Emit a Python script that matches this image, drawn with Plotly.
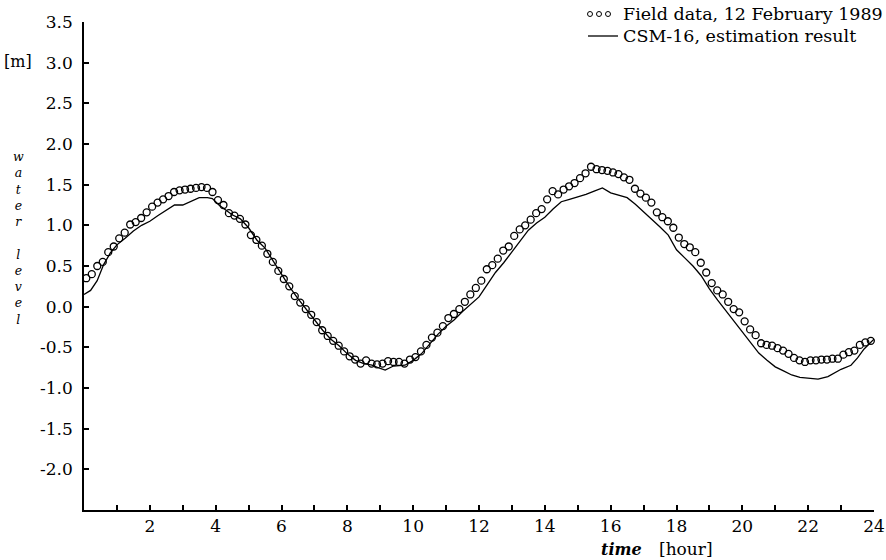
import plotly.graph_objects as go

# ---------------- data ----------------
# Field data, 12 February 1989 (water level [m]) sampled every 10 minutes
field_start = 0.07          # hour of first observation
field_step_min = 10         # minutes between observations
field_level = [
    0.35, 0.40, 0.50, 0.55, 0.67, 0.74, 0.84, 0.91, 1.01, 1.04,
    1.09, 1.16, 1.23, 1.28, 1.32, 1.36, 1.41, 1.43, 1.44, 1.45,
    1.46, 1.47, 1.46, 1.41, 1.31, 1.25, 1.15, 1.12, 1.08, 1.01,
    0.88, 0.82, 0.75, 0.65, 0.55, 0.44, 0.34, 0.25, 0.13, 0.05,
    -0.03, -0.10, -0.19, -0.29, -0.36, -0.42, -0.48, -0.55, -0.61, -0.65,
    -0.70, -0.66, -0.70, -0.71, -0.70, -0.67, -0.68, -0.68, -0.70, -0.65,
    -0.62, -0.55, -0.47, -0.38, -0.32, -0.24, -0.14, -0.09, -0.03, 0.06,
    0.15, 0.23, 0.32, 0.46, 0.51, 0.59, 0.69, 0.74, 0.87, 0.95,
    1.00, 1.07, 1.15, 1.20, 1.32, 1.42, 1.38, 1.44, 1.48, 1.52,
    1.58, 1.64, 1.72, 1.69, 1.68, 1.67, 1.65, 1.63, 1.59, 1.56,
    1.45, 1.39, 1.34, 1.28, 1.16, 1.10, 1.05, 0.97, 0.85, 0.77,
    0.73, 0.67, 0.54, 0.42, 0.29, 0.20, 0.15, 0.06, -0.03, -0.07,
    -0.18, -0.28, -0.35, -0.45, -0.47, -0.48, -0.51, -0.54, -0.58, -0.63,
    -0.66, -0.68, -0.66, -0.66, -0.65, -0.65, -0.64, -0.64, -0.59, -0.56,
    -0.54, -0.47, -0.44, -0.42, -0.38,
]
field_time = [field_start + k * field_step_min / 60 for k in range(len(field_level))]

# CSM-16 estimation result
csm_time = [
    0.0, 0.2, 0.4, 0.6, 0.8, 1.0, 1.25, 1.5, 1.75, 2.0,
    2.25, 2.5, 2.75, 3.0, 3.25, 3.5, 3.75, 3.9, 4.1, 4.3,
    4.5, 4.75, 5.0, 5.25, 5.5, 5.75, 6.0, 6.25, 6.5, 6.75,
    7.0, 7.25, 7.5, 7.75, 8.0, 8.25, 8.5, 8.75, 9.0, 9.15,
    9.4, 9.75, 10.0, 10.25, 10.5, 10.75, 11.0, 11.25, 11.5, 11.75,
    12.0, 12.25, 12.5, 12.75, 13.0, 13.25, 13.5, 13.75, 14.0, 14.25,
    14.5, 14.75, 15.0, 15.25, 15.5, 15.75, 16.0, 16.25, 16.5, 16.75,
    17.0, 17.25, 17.5, 17.75, 18.0, 18.25, 18.5, 18.75, 19.0, 19.25,
    19.5, 19.75, 20.0, 20.25, 20.5, 20.75, 21.0, 21.25, 21.5, 21.75,
    22.0, 22.3, 22.6, 22.8, 23.0, 23.3, 23.5, 23.7, 23.9, 24.1,
]
csm_level = [
    0.15, 0.20, 0.32, 0.52, 0.66, 0.76, 0.84, 0.93, 1.00, 1.05,
    1.12, 1.18, 1.25, 1.25, 1.30, 1.34, 1.34, 1.33, 1.25, 1.19,
    1.13, 1.08, 0.97, 0.82, 0.72, 0.56, 0.40, 0.24, 0.10, -0.03,
    -0.16, -0.29, -0.40, -0.48, -0.58, -0.66, -0.70, -0.72, -0.76, -0.78,
    -0.73, -0.72, -0.66, -0.58, -0.46, -0.34, -0.24, -0.16, -0.06, 0.03,
    0.12, 0.27, 0.42, 0.54, 0.67, 0.80, 0.94, 1.03, 1.10, 1.20,
    1.29, 1.32, 1.35, 1.38, 1.42, 1.46, 1.40, 1.37, 1.34, 1.26,
    1.17, 1.08, 0.98, 0.88, 0.70, 0.60, 0.50, 0.38, 0.22, 0.08,
    -0.05, -0.18, -0.31, -0.45, -0.57, -0.66, -0.74, -0.79, -0.84, -0.87,
    -0.88, -0.89, -0.86, -0.81, -0.77, -0.72, -0.63, -0.52, -0.44, -0.36,
]

x_label_ticks = [2, 4, 6, 8, 10, 12, 14, 16, 18, 20, 22, 24]
y_label_ticks = [-2.0, -1.5, -1.0, -0.5, 0.0, 0.5, 1.0, 1.5, 2.0, 2.5, 3.0, 3.5]

legend_field = "Field data, 12 February 1989"
legend_csm = "CSM-16, estimation result"
y_title_words = ["water", "level"]
y_unit = "[m]"
x_title = "time"
x_unit = "[hour]"

# ---------------- figure ----------------
W, H = 886, 560
L, R, T, B = 84, 12, 22, 50
PW, PH = W - L - R, H - T - B


def px(x):
    return (x - L) / PW


def py(y):
    return (H - B - y) / PH


FONT = "DejaVu Serif"

fig = go.Figure()
fig.add_trace(go.Scatter(
    x=csm_time, y=csm_level, mode="lines",
    line=dict(color="black", width=1.3), name=legend_csm,
))
fig.add_trace(go.Scatter(
    x=field_time, y=field_level, mode="markers",
    marker=dict(symbol="circle-open", size=7, color="black",
                line=dict(color="black", width=1.3)),
    name=legend_field, cliponaxis=False,
))

fig.update_layout(
    width=W, height=H,
    margin=dict(l=L, r=R, t=T, b=B, pad=0, autoexpand=False),
    paper_bgcolor="white", plot_bgcolor="white",
    showlegend=False,
    font=dict(family=FONT, color="black", size=17),
)
fig.update_xaxes(
    range=[0, 24], showgrid=False, zeroline=False, automargin=False,
    showline=True, linecolor="black", linewidth=1.5,
    ticks="inside", ticklen=5, tickwidth=1.5, tickcolor="black",
    tickvals=x_label_ticks, ticktext=[str(v) for v in x_label_ticks],
    minor=dict(tick0=0, dtick=1, ticks="inside", ticklen=5,
               tickwidth=1.5, tickcolor="black", showgrid=False),
    tickfont=dict(family=FONT, size=17),
)
fig.update_yaxes(
    range=[-2.5, 3.5], showgrid=False, zeroline=False, automargin=False,
    showline=True, linecolor="black", linewidth=1.5,
    ticks="inside", ticklen=5, tickwidth=1.5, tickcolor="black",
    tickvals=y_label_ticks, ticktext=["%.1f" % v for v in y_label_ticks],
    tickfont=dict(family=FONT, size=17),
    ticklabelstandoff=6,
)

ann = []
LEG_FS = 17.5
# legend rows
ann.append(dict(x=px(621), y=py(14), xref="paper", yref="paper",
                text=legend_field, showarrow=False, xanchor="left",
                yanchor="middle", font=dict(family=FONT, size=LEG_FS)))
ann.append(dict(x=px(621), y=py(36), xref="paper", yref="paper",
                text=legend_csm, showarrow=False, xanchor="left",
                yanchor="middle", font=dict(family=FONT, size=LEG_FS)))
# y axis title: unit and vertically stacked italic letters
ann.append(dict(x=px(18), y=py(62), xref="paper", yref="paper",
                text=y_unit, showarrow=False, xanchor="center",
                yanchor="middle", font=dict(family=FONT, size=16)))
stacked = "<br>".join("<i>%s</i>" % c for c in y_title_words[0]) + "<br><br>" + \
          "<br>".join("<i>%s</i>" % c for c in y_title_words[1])
ann.append(dict(x=px(18), y=py(238), xref="paper", yref="paper",
                text=stacked, showarrow=False, xanchor="center",
                yanchor="middle", align="center",
                font=dict(family=FONT, size=12.5)))
# x axis title
ann.append(dict(x=px(621), y=py(549), xref="paper", yref="paper",
                text="<i><b>%s</b></i>" % x_title, showarrow=False, xanchor="center",
                yanchor="middle", font=dict(family=FONT, size=16)))
ann.append(dict(x=px(686), y=py(549), xref="paper", yref="paper",
                text=x_unit, showarrow=False, xanchor="center",
                yanchor="middle", font=dict(family=FONT, size=17)))
fig.update_layout(annotations=ann)

shapes = []
for cx in (590, 599, 608):
    shapes.append(dict(type="circle", xref="paper", yref="paper",
                       x0=px(cx - 2.5), x1=px(cx + 2.5),
                       y0=py(14 + 2.5), y1=py(14 - 2.5),
                       line=dict(color="black", width=1)))
shapes.append(dict(type="line", xref="paper", yref="paper",
                   x0=px(588), x1=px(618), y0=py(36), y1=py(36),
                   line=dict(color="black", width=1.3)))
fig.update_layout(shapes=shapes)

fig.write_html("out.html")
